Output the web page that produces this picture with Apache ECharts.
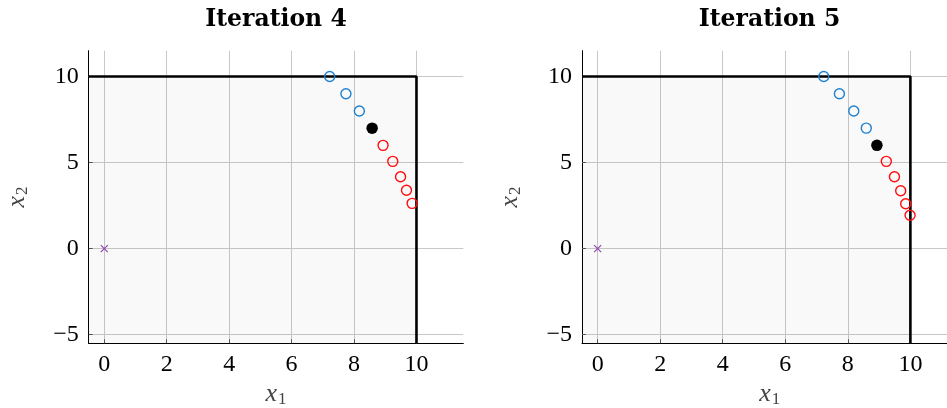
<!DOCTYPE html>
<html>
<head>
<meta charset="utf-8">
<script src="https://cdn.jsdelivr.net/npm/echarts@6/dist/echarts.min.js"></script>
<style>
  html, body { margin: 0; padding: 0; background: #fff; }
  #chart { width: 947px; height: 408px; }
</style>
</head>
<body>
<div id="chart"></div>
<script>
// values
const titles = ['Iteration 4', 'Iteration 5'];
const xTicks = [0, 2, 4, 6, 8, 10];
const yTicks = [-5, 0, 5, 10];
const xRange = [-0.5, 11.5];
const yRange = [-5.5, 11.5];

// feasible box corner (x1 <= 10, x2 <= 10)
const boxX = [-0.5, 10, 10];
const boxY = [10, 10, -5.5];

const startPoint = [0, 0];

// iteration 4
const it4BlueX = [7.22, 7.74, 8.17];
const it4BlueY = [10, 9, 8];
const it4Current = [8.58, 7];
const it4RedX = [8.93, 9.24, 9.49, 9.68, 9.86];
const it4RedY = [6, 5.07, 4.18, 3.39, 2.63];

// iteration 5
const it5BlueX = [7.23, 7.73, 8.19, 8.59];
const it5BlueY = [10, 9, 8, 7];
const it5Current = [8.93, 6];
const it5RedX = [9.23, 9.49, 9.69, 9.85, 9.99];
const it5RedY = [5.07, 4.18, 3.36, 2.61, 1.94];

const panels = [
    { blueX: it4BlueX, blueY: it4BlueY, cur: it4Current, redX: it4RedX, redY: it4RedY },
    { blueX: it5BlueX, blueY: it5BlueY, cur: it5Current, redX: it5RedX, redY: it5RedY }
];

const zip = (a, b) => a.map((v, i) => [v, b[i]]);

const serif = "'Liberation Serif', 'DejaVu Serif', serif";
const gridLeft = [88.7, 582];
const gridWidth = [374.6, 375.3];
const titleCenter = [271, 764.5]; // title box has 5px padding

const chart = echarts.init(document.getElementById('chart'));

function axisName(v, s) {
    return '{v|' + v + '}{s|' + s + '}';
}
const nameRich = {
    v: { fontFamily: serif, fontStyle: 'italic', fontSize: 26, color: '#444' },
    s: { fontFamily: serif, fontSize: 17, color: '#444', padding: [11, 0, 0, 1] }
};

const labelStyle = { fontFamily: serif, fontSize: 24, color: '#000' };

const option = {
    animation: false,
    backgroundColor: '#fff',
    textStyle: { fontFamily: serif },
    title: titles.map((t, i) => ({
        text: t,
        left: titleCenter[i],
        top: 3,
        textAlign: 'center',
        textStyle: { fontFamily: 'DejaVu Serif', fontWeight: 'bold', fontSize: 23.5, color: '#000' }
    })),
    grid: panels.map((p, i) => ({
        left: gridLeft[i],
        width: gridWidth[i],
        top: 50.7,
        height: 292.6,
        containLabel: false,
        outerBoundsMode: 'none'
    })),
    xAxis: panels.map((p, i) => ({
        type: 'value',
        gridIndex: i,
        min: xRange[0],
        max: xRange[1],
        name: axisName('x', '1'),
        nameLocation: 'middle',
        nameGap: 36,
        nameTextStyle: { rich: nameRich },
        axisLine: { show: true, onZero: false, lineStyle: { color: '#000', width: 1 } },
        axisTick: { show: true, inside: true, length: 4, customValues: xTicks, lineStyle: { color: '#555' } },
        axisLabel: Object.assign({ customValues: xTicks, margin: 9 }, labelStyle),
        splitLine: { show: true, lineStyle: { color: '#c8c8c8', width: 1 } }
    })),
    yAxis: panels.map((p, i) => ({
        type: 'value',
        gridIndex: i,
        min: yRange[0],
        max: yRange[1],
        name: axisName('x', '2'),
        nameLocation: 'middle',
        nameGap: 58,
        nameTextStyle: { rich: nameRich },
        axisLine: { show: true, onZero: false, lineStyle: { color: '#000', width: 1 } },
        axisTick: { show: true, inside: true, length: 4, customValues: yTicks, lineStyle: { color: '#555' } },
        axisLabel: Object.assign({
            customValues: yTicks, margin: 10,
            formatter: v => (v < 0 ? '\u2212' + Math.abs(v) : String(v))
        }, labelStyle),
        splitLine: { show: true, lineStyle: { color: '#c8c8c8', width: 1 } }
    })),
    series: []
};

panels.forEach((p, i) => {
    option.series.push({
        type: 'line',
        xAxisIndex: i, yAxisIndex: i,
        data: zip(boxX, boxY),
        symbol: 'none',
        lineStyle: { color: '#000', width: 2.6 },
        areaStyle: { origin: 'start', color: 'rgba(0,0,0,0.03)' },
        z: 2
    });
    option.series.push({
        type: 'scatter',
        xAxisIndex: i, yAxisIndex: i,
        data: [startPoint],
        symbol: 'path://M0,0L10,10M10,0L0,10',
        symbolSize: 7,
        itemStyle: { color: 'none', borderColor: '#9446b3', borderWidth: 1.2, opacity: 1 },
        z: 3
    });
    option.series.push({
        type: 'scatter',
        xAxisIndex: i, yAxisIndex: i,
        data: zip(p.blueX, p.blueY),
        symbol: 'circle',
        symbolSize: 10,
        itemStyle: { color: 'rgba(0,0,0,0)', borderColor: '#1f80cf', borderWidth: 1.4, opacity: 1 },
        z: 4
    });
    option.series.push({
        type: 'scatter',
        xAxisIndex: i, yAxisIndex: i,
        data: zip(p.redX, p.redY),
        symbol: 'circle',
        symbolSize: 10,
        itemStyle: { color: 'rgba(0,0,0,0)', borderColor: '#ff0d0d', borderWidth: 1.4, opacity: 1 },
        z: 4
    });
    option.series.push({
        type: 'scatter',
        xAxisIndex: i, yAxisIndex: i,
        data: [p.cur],
        symbol: 'circle',
        symbolSize: 11.5,
        itemStyle: { color: '#000', opacity: 1 },
        z: 5
    });
});

chart.setOption(option);
window.addEventListener('resize', () => chart.resize());
</script>
</body>
</html>
